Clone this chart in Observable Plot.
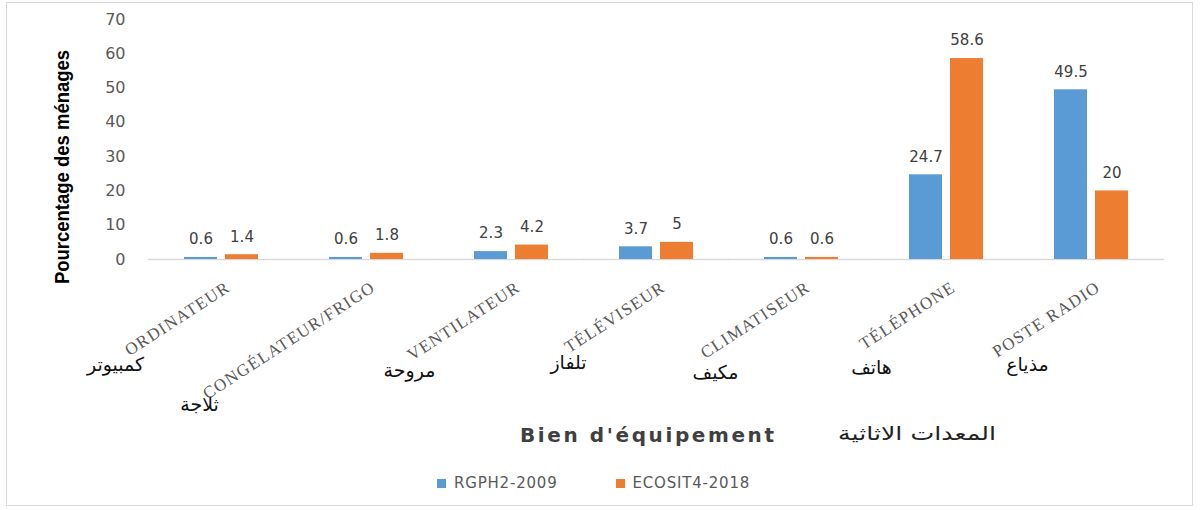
<!DOCTYPE html>
<html><head><meta charset="utf-8">
<script src="https://cdn.jsdelivr.net/npm/d3@7"></script>
<script src="https://cdn.jsdelivr.net/npm/@observablehq/plot@0.6"></script>
<style>
body{margin:0;background:#fff;}
#wrap{position:relative;width:1200px;height:510px;overflow:hidden;background:#fff;}
#frame{position:absolute;left:6px;top:2px;width:1187px;height:504px;border:1px solid #d9d9d9;box-sizing:border-box;}
#chart{position:absolute;left:0;top:0;}
#ytitle{position:absolute;left:62px;top:167px;transform:translate(-50%,-50%) rotate(-90deg) scaleX(0.88);font:bold 21px "Liberation Sans Narrow","Liberation Sans",sans-serif;color:#000;white-space:nowrap;}
#xtitle{position:absolute;left:520px;top:423px;font:bold 20px "DejaVu Sans",sans-serif;letter-spacing:2.6px;color:#404040;white-space:nowrap;}
#xtitleAr{position:absolute;left:838px;top:422px;font:19px "DejaVu Sans",sans-serif;color:#222;white-space:nowrap;direction:rtl;transform-origin:left center;transform:scaleX(1.33);}
#legend{position:absolute;top:474px;left:437px;font:15px "DejaVu Sans",sans-serif;letter-spacing:0.8px;color:#595959;display:flex;white-space:nowrap;}
.item{display:flex;align-items:center;}
.sw{width:9px;height:9px;display:inline-block;margin-right:8px;}
g[aria-label="fx-axis tick label"] text{letter-spacing:1.3px;}
</style>
</head><body>
<div id="wrap">
<div id="frame"></div>
<div id="chart"></div>
<div id="ytitle">Pourcentage des ménages</div>
<div id="xtitle">Bien d'équipement</div>
<div id="xtitleAr">المعدات الاثاثية</div>
<div id="legend"></div>
</div>
<script>
const categories = ["ORDINATEUR","CONGÉLATEUR/FRIGO","VENTILATEUR","TÉLÉVISEUR","CLIMATISEUR","TÉLÉPHONE","POSTE RADIO"];
const arabicLabels = ["كمبيوتر","ثلاجة","مروحة","تلفاز","مكيف","هاتف","مذياع"];
const series = ["RGPH2-2009","ECOSIT4-2018"];
const rgph2009 = [0.6,0.6,2.3,3.7,0.6,24.7,49.5];
const ecosit2018 = [1.4,1.8,4.2,5,0.6,58.6,20];
const yTicks = [0,10,20,30,40,50,60,70];
const colors = ["#5B9BD5","#ED7D31"];

// layout offsets for Arabic labels (pixels relative to the group centre / baseline)
const arabicDx = [-106,-167,-102,-88,-86,-75,-64];
const arabicDy = [111,151,117,109,119,114,111];

const data = [];
categories.forEach((c,i)=>{
  data.push({category:c, series:series[0], value:rgph2009[i]});
  data.push({category:c, series:series[1], value:ecosit2018[i]});
});
const arData = categories.map((c,i)=>({category:c, arabic:arabicLabels[i], i}));

const chart = Plot.plot({
  width:1200, height:460,
  marginLeft:147, marginRight:35, marginTop:19, marginBottom:201,
  style:{background:"transparent"},
  fx:{domain:categories, paddingInner:0.49, paddingOuter:0.245},
  x:{domain:series, paddingInner:0.2, paddingOuter:0, axis:null},
  y:{domain:[0,70]},
  color:{domain:series, range:colors},
  marks:[
    Plot.ruleY([0], {stroke:"#d9d9d9", strokeWidth:1.5, insetLeft:-36, insetRight:-36}),
    Plot.barY(data, {fx:"category", x:"series", y:"value", fill:"series"}),
    Plot.text(data, {fx:"category", x:"series", y:"value", text:d=>String(d.value), dy:-18, fontSize:15, fill:"#404040", fontFamily:"DejaVu Sans"}),
    Plot.axisY({ticks:yTicks, tickSize:0, tickPadding:59, fontSize:16, fill:"#595959", fontFamily:"DejaVu Sans", label:null}),
    Plot.axisFx({anchor:"bottom", tickRotate:-33, tickSize:0, tickPadding:26, dx:7, fontSize:17, fill:"#595959", fontFamily:"Liberation Serif", label:null}),
    ...arData.map(d=>Plot.text([d], {fx:"category", frameAnchor:"bottom", text:"arabic", dx:arabicDx[d.i], dy:arabicDy[d.i], fontSize:19, fill:"#111", fontFamily:"DejaVu Sans"}))
  ]
});
document.getElementById("chart").appendChild(chart);

const legend = document.getElementById("legend");
series.forEach((s,i)=>{
  const it = document.createElement("div");
  it.className="item";
  it.style.marginRight = i===0 ? "58px" : "0";
  it.innerHTML = `<span class="sw" style="background:${colors[i]}"></span><span>${s}</span>`;
  legend.appendChild(it);
});
</script>
</body></html>
